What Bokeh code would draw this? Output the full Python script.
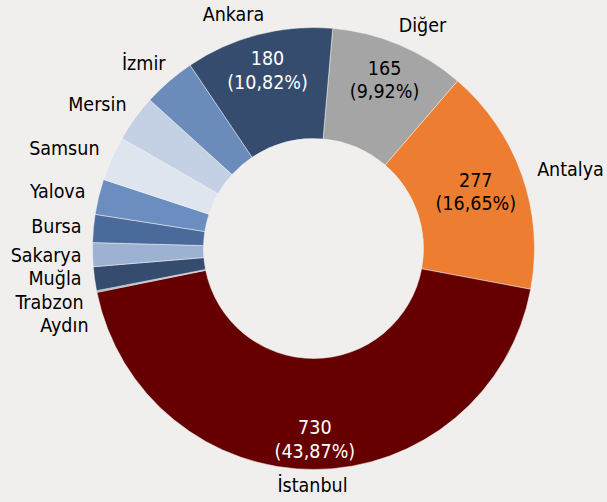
import math
from bokeh.plotting import figure
from bokeh.models import ColumnDataSource, Range1d
from bokeh.core.properties import value
from bokeh.embed import file_html
from bokeh.resources import INLINE

# ---- data (clockwise from the top) ----
cities = ["Diğer", "Antalya", "İstanbul", "Aydın", "Trabzon", "Muğla", "Sakarya",
          "Bursa", "Yalova", "Samsun", "Mersin", "İzmir", "Ankara"]
counts = [165, 277, 730, 1, 1, 29, 29, 34, 43, 54, 57, 64, 180]
colors = ["#A5A5A5", "#ED7D31", "#660000", "#3F5B87", "#2F4468", "#364C6E", "#9DB1D2",
          "#4A6A9B", "#6C8DBF", "#DFE5EF", "#C4D0E3", "#6B8CBA", "#364C6E"]
# slices that carry a value/percent label inside the ring
inner_labelled = ["İstanbul", "Antalya", "Diğer", "Ankara"]

# ---- layout / style ----
BG = "#F0EFEE"
FONT = "DejaVu Sans Condensed, DejaVu Sans"
FS = "19.5px"
CX, CY = 313, -248          # page pixel coords (y negated)
R_OUT, R_IN = 221, 110
START_DEG = 5               # first slice begins 5 deg clockwise of 12 o'clock
inner_label_r = {"İstanbul": 191, "Antalya": 172, "Diğer": 183, "Ankara": 184}
inner_text_color = {"İstanbul": "white", "Antalya": "black", "Diğer": "black", "Ankara": "white"}
# outer category label anchors (page px) and alignment
outer_pos = {
    "Ankara": (233, 14, "center"), "Diğer": (422, 25, "center"),
    "Antalya": (570, 169, "center"), "İstanbul": (312, 485, "center"),
    "İzmir": (165, 63, "right"), "Mersin": (126, 104, "right"),
    "Samsun": (99, 148, "right"), "Yalova": (85, 191, "right"),
    "Bursa": (81, 226, "right"), "Sakarya": (81, 255, "right"),
    "Muğla": (81, 278, "right"), "Trabzon": (83, 302, "right"),
    "Aydın": (88, 325, "right"),
}

total = sum(counts)
starts, ends = [], []
acc = START_DEG
for c in counts:
    th0 = acc
    th1 = acc + c / total * 360.0
    acc = th1
    # convert clockwise-from-top to bokeh ccw-from-+x
    starts.append(math.radians(90 - th1))
    ends.append(math.radians(90 - th0))

src = ColumnDataSource(dict(city=cities, start=starts, end=ends, color=colors))

p = figure(width=607, height=502, output_backend="svg", toolbar_location=None,
           x_range=Range1d(0, 607), y_range=Range1d(-502, 0),
           background_fill_color=BG, border_fill_color=BG, min_border=0)
p.outline_line_color = None
p.axis.visible = False
p.grid.visible = False

p.annular_wedge(x=CX, y=CY, inner_radius=R_IN, outer_radius=R_OUT,
                start_angle="start", end_angle="end", color="color",
                line_color="#F4F4F4", line_width=0.5, source=src)

# inside labels: value and percent
vx, vy, vt, vc = [], [], [], []
for i, city in enumerate(cities):
    if city not in inner_labelled:
        continue
    mid = (starts[i] + ends[i]) / 2
    r = inner_label_r[city]
    x = CX + r * math.cos(mid)
    y = CY + r * math.sin(mid)
    pct = "({:.2f}%)".format(counts[i] / total * 100).replace(".", ",")
    vx += [x, x]
    vy += [y + 12, y - 12]
    vt += [str(counts[i]), pct]
    vc += [inner_text_color[city]] * 2
p.text(x=vx, y=vy, text=vt, text_color=vc, text_font=value(FONT),
       text_font_size=FS, text_align="center", text_baseline="middle")

# outer category labels
for align in ("center", "right"):
    xs, ys, ts = [], [], []
    for city in cities:
        px, py, a = outer_pos[city]
        if a == align:
            xs.append(px); ys.append(-py); ts.append(city)
    p.text(x=xs, y=ys, text=ts, text_color="black", text_font=value(FONT),
           text_font_size=FS, text_align=align, text_baseline="middle")

html = file_html(p, INLINE)
html = html.replace("<head>", "<head><style>body{background:%s;}</style>" % BG, 1)
open("out.html", "w").write(html)
